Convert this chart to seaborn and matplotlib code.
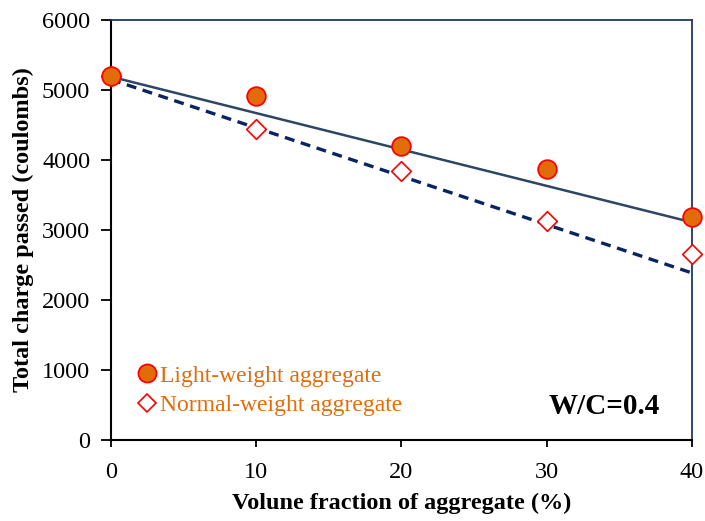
import matplotlib
matplotlib.use("Agg")
import matplotlib.pyplot as plt
import seaborn as sns
import pandas as pd
from matplotlib.lines import Line2D

sns.set_style("white")
plt.rcParams['font.family'] = ['Liberation Serif', 'DejaVu Serif']
plt.rcParams['text.color'] = 'black'
plt.rcParams['axes.labelcolor'] = 'black'
plt.rcParams['xtick.color'] = 'black'
plt.rcParams['ytick.color'] = 'black'

volume = [0, 10, 20, 30, 40]
light_weight = [5200, 4914, 4200, 3871, 3186]
normal_weight = [5200, 4443, 3843, 3129, 2657]

trend_x = [0, 40]
trend_light = [5190, 3110]
trend_normal = [5150, 2386]

fig = plt.figure(figsize=(7.05, 5.21), dpi=100)
ax = fig.add_axes([0.1574, 0.1555, 0.8242, 0.8061])

sns.lineplot(x=trend_x, y=trend_light, ax=ax, color='#2E4663', lw=1.8, zorder=2)
sns.lineplot(x=trend_x, y=trend_normal, ax=ax, color='#0A2463', lw=2.4, zorder=2)
ax.lines[-1].set_linestyle((0, (3, 2.0)))

sns.scatterplot(x=volume, y=light_weight, ax=ax, marker='o', s=180,
                color='#E36C0A', edgecolor='#FF0000', linewidth=1.3, zorder=4, clip_on=False)
sns.scatterplot(x=volume, y=normal_weight, ax=ax, marker='D', s=100,
                color='white', edgecolor='#FF0000', linewidth=1.2, zorder=3, clip_on=False)

ax.set_xlim(0, 40)
ax.set_ylim(0, 6000)
ax.set_xticks([0, 10, 20, 30, 40])
ax.set_yticks(range(0, 6001, 1000))
ax.tick_params(axis='both', which='major', labelsize=17.5, direction='out',
               width=1.3, color='black', bottom=True, left=True, labelcolor='black')
ax.tick_params(axis='x', length=5, pad=11)
ax.tick_params(axis='y', length=7, pad=8)
for s in ['left', 'bottom']:
    ax.spines[s].set_color('black')
    ax.spines[s].set_linewidth(1.5)
for s in ['top', 'right']:
    ax.spines[s].set_color('#1F3864')
    ax.spines[s].set_linewidth(1.3)

ax.set_xlabel('Volune fraction of aggregate (%)', fontsize=17.5, fontweight='bold', labelpad=7)
ax.set_ylabel('Total charge passed (coulombs)', fontsize=17.5, fontweight='bold', labelpad=6)

handles = [
    Line2D([], [], marker='o', ls='none', markersize=13, markerfacecolor='#E36C0A',
           markeredgecolor='#FF0000', markeredgewidth=1.3),
    Line2D([], [], marker='D', ls='none', markersize=9, markerfacecolor='white',
           markeredgecolor='#FF0000', markeredgewidth=1.2),
]
leg = ax.legend(handles, ['Light-weight aggregate', 'Normal-weight aggregate'],
                loc='lower left', bbox_to_anchor=(0.025, 0.035), frameon=False,
                fontsize=17, handletextpad=0.05, handlelength=1.0, labelspacing=0.32,
                borderaxespad=0)
for t in leg.get_texts():
    t.set_color('#E36C0A')

ax.text(0.945, 0.08, 'W/C=0.4', transform=ax.transAxes, ha='right', va='center',
        fontsize=21, fontweight='bold')

fig.savefig('out.png', dpi=100)
